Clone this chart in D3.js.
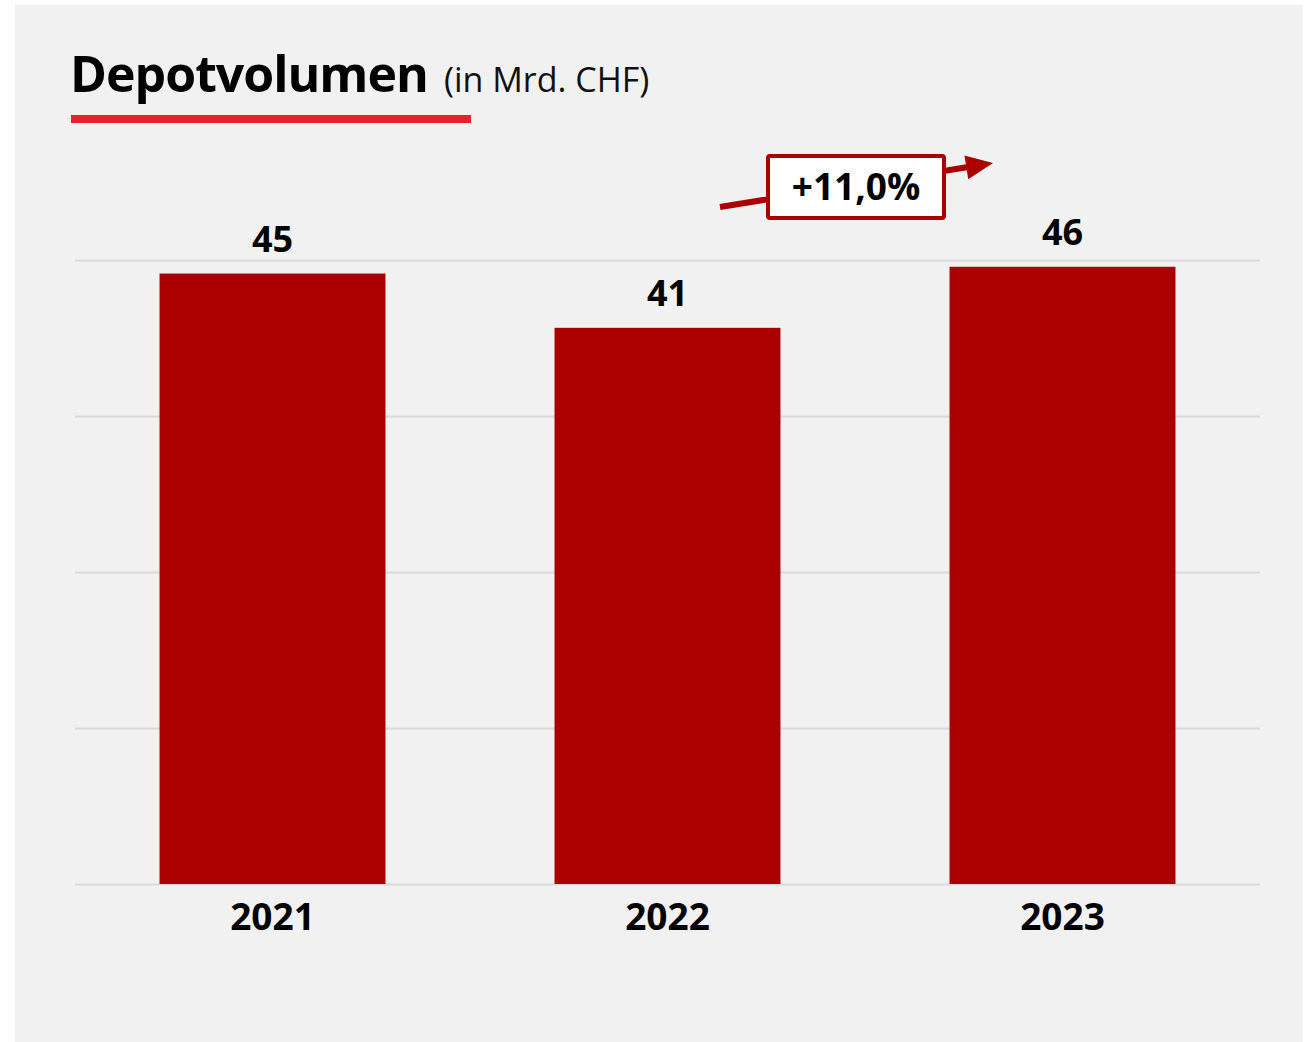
<!DOCTYPE html>
<html>
<head>
<meta charset="utf-8">
<script src="https://cdn.jsdelivr.net/npm/d3@7"></script>
<style>
  html, body { margin: 0; padding: 0; background: #fff; }
  svg { display: block; font-family: 'Open Sans', 'Noto Sans', sans-serif; }
</style>
</head>
<body>
<svg id="chart" width="1309" height="1042"></svg>
<script>
// Daten
const years = ['2021', '2022', '2023'];
const volumes = [45.0, 41.0, 45.5];
const valueLabels = ['45', '41', '46'];
const growthLabel = '+11,0%';
const gridTicks = [0, 11.5, 23, 34.5, 46];

const svg = d3.select('#chart');

// Hintergrund-Panel
svg.append('rect')
  .attr('x', 15).attr('y', 5)
  .attr('width', 1288).attr('height', 1037)
  .attr('fill', '#f1f1f1');

// Titel
const title = svg.append('text')
  .attr('x', 70).attr('y', 92)
  .attr('fill', '#000');
title.append('tspan')
  .attr('font-size', 50).attr('font-weight', 700)
  .attr('letter-spacing', -1)
  .text('Depotvolumen');
title.append('tspan')
  .attr('dx', 16)
  .attr('font-size', 34).attr('font-weight', 400)
  .attr('fill', '#111')
  .text('(in Mrd. CHF)');

svg.append('rect')
  .attr('x', 71).attr('y', 115)
  .attr('width', 400).attr('height', 8)
  .attr('fill', '#e8202a');

const margin = { left: 75, right: 49, top: 260, bottom: 158 };
const width = 1309 - margin.left - margin.right;
const height = 1042 - margin.top - margin.bottom;

const g = svg.append('g')
  .attr('transform', `translate(${margin.left},${margin.top})`);

const x = d3.scaleBand()
  .domain(years)
  .range([0, width])
  .paddingInner(0.428)
  .paddingOuter(0.214);

const y = d3.scaleLinear()
  .domain([0, 46])
  .range([height, 0]);

// Gitterlinien
g.append('g')
  .call(d3.axisLeft(y).tickValues(gridTicks).tickSize(-width).tickFormat(''))
  .call((a) => a.select('.domain').remove())
  .selectAll('line')
  .attr('stroke', '#d9d9d9')
  .attr('stroke-width', 2);

// Balken
g.selectAll('.bar')
  .data(volumes)
  .enter()
  .append('rect')
  .attr('class', 'bar')
  .attr('x', (d, i) => x(years[i]))
  .attr('y', (d) => y(d))
  .attr('width', x.bandwidth())
  .attr('height', (d) => height - y(d))
  .attr('fill', '#ab0000');

// Werte
g.selectAll('.val')
  .data(volumes)
  .enter()
  .append('text')
  .attr('x', (d, i) => x(years[i]) + x.bandwidth() / 2)
  .attr('y', (d) => y(d) - 22)
  .attr('text-anchor', 'middle')
  .attr('font-size', 36)
  .attr('font-weight', 700)
  .attr('fill', '#000')
  .text((d, i) => valueLabels[i]);

// x-Achse
const xAxis = g.append('g')
  .attr('transform', `translate(0,${height})`)
  .call(d3.axisBottom(x).tickSize(0).tickPadding(20));
xAxis.select('.domain').remove();
xAxis.selectAll('text')
  .attr('font-size', 37)
  .attr('font-weight', 700)
  .attr('fill', '#000')
  .attr('font-family', "'Open Sans', 'Noto Sans', sans-serif");

// Wachstums-Pfeil
const start = [720, 207];
const tip = [993, 163];
const len = Math.hypot(tip[0] - start[0], tip[1] - start[1]);
const ux = (tip[0] - start[0]) / len;
const uy = (tip[1] - start[1]) / len;
const headLen = 27;
const headHalf = 12;
const base = [tip[0] - ux * headLen, tip[1] - uy * headLen];

svg.append('line')
  .attr('x1', start[0]).attr('y1', start[1])
  .attr('x2', base[0] + ux * 2).attr('y2', base[1] + uy * 2)
  .attr('stroke', '#ab0000')
  .attr('stroke-width', 6);

svg.append('path')
  .attr('d', d3.line()([
    tip,
    [base[0] - uy * headHalf, base[1] + ux * headHalf],
    [base[0] + uy * headHalf, base[1] - ux * headHalf]
  ]) + 'Z')
  .attr('fill', '#ab0000');

svg.append('rect')
  .attr('x', 768).attr('y', 156)
  .attr('width', 176).attr('height', 62)
  .attr('rx', 2)
  .attr('fill', '#fff')
  .attr('stroke', '#ab0000')
  .attr('stroke-width', 4);

svg.append('text')
  .attr('x', 856).attr('y', 200)
  .attr('text-anchor', 'middle')
  .attr('font-size', 37)
  .attr('font-weight', 700)
  .attr('fill', '#000')
  .text(growthLabel);
</script>
</body>
</html>
